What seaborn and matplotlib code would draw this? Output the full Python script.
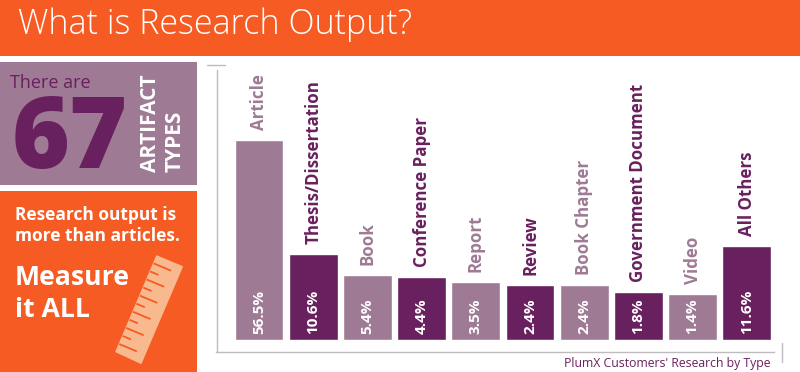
# -*- coding: utf-8 -*-
"""What is Research Output - PlumX artifact types"""
import pandas as pd
import matplotlib.pyplot as plt
import seaborn as sns
from matplotlib.patches import Polygon, Rectangle

ORANGE = '#F55B22'
LIGHT = '#9E7A95'
DARK = '#69205E'
GRAY = '#BFBBC0'
PEACH = '#F9B98F'

# data
types = ['Article', 'Thesis/Dissertation', 'Book', 'Conference Paper', 'Report',
         'Review', 'Book Chapter', 'Government Document', 'Video', 'All Others']
pct_labels = ['56.5%', '10.6%', '5.4%', '4.4%', '3.5%', '2.4%', '2.4%', '1.8%', '1.4%', '11.6%']
# the picture's bars are not to a linear scale, so heights are read off it
drawn_height = [200, 86, 65.5, 63, 58.4, 55, 55, 48.7, 46.4, 94]
bar_colors = [LIGHT, DARK, LIGHT, DARK, LIGHT, DARK, LIGHT, DARK, LIGHT, DARK]

sns.set_theme(style='white')
plt.rcParams['font.family'] = ['Open Sans', 'DejaVu Sans']

W, H = 800, 372
fig = plt.figure(figsize=(W / 100, H / 100), dpi=100, facecolor='white')

# chart
ax = fig.add_axes([216.5 / W, 1 - 352.3 / H, (774 - 216.5) / W, (352.3 - 70) / H])
df = pd.DataFrame({'type': types, 'height': drawn_height})
sns.barplot(data=df, x='type', y='height', hue='type', palette=bar_colors, legend=False,
            width=0.9, saturation=1, ax=ax)
ax.set_xlim(-0.785, 9.502)
ax.set_ylim(-12.1, 270.2)
ax.set_xlabel('')
ax.set_ylabel('')
ax.set_xticks([])
ax.set_yticks([])
sns.despine(ax=ax)
for side in ['left', 'bottom']:
    ax.spines[side].set_color(GRAY)
    ax.spines[side].set_linewidth(1)

for i, (name, pct, h, c) in enumerate(zip(types, pct_labels, drawn_height, bar_colors)):
    ax.annotate(name, (i, h), xytext=(0, 7), textcoords='offset points', rotation=90,
                ha='center', va='bottom', color=c, fontsize=12.2, fontweight='bold')
    ax.annotate(pct, (i, 0), xytext=(0, 4.5), textcoords='offset points', rotation=90,
                ha='center', va='bottom', color='white', fontsize=11, fontweight='bold')

# page furniture, in pixel coordinates
page = fig.add_axes([0, 0, 1, 1], facecolor='none')
page.set_xlim(0, W)
page.set_ylim(H, 0)
page.axis('off')

page.add_patch(Rectangle((0, 0), W, 56, color=ORANGE, lw=0))
page.add_patch(Rectangle((0, 62), 197, 123, color=LIGHT, lw=0))
page.add_patch(Rectangle((0, 191), 197, 181, color=ORANGE, lw=0))
page.plot([207, 225], [64.5, 64.5], color=GRAY, lw=1)
page.plot([781.5, 781.5], [343, 361.5], color=GRAY, lw=1)

page.text(18, 25, 'What is Research Output?', color='white', fontsize=24.5,
          fontweight='light', va='center', ha='left')
page.text(10, 83, 'There are', color=DARK, fontsize=13, va='center', ha='left')
page.text(12, 142, '67', color=DARK, fontsize=71.5, fontweight='extra bold', va='center', ha='left')
page.text(150, 172.5, 'ARTIFACT', color='white', fontsize=15, fontweight='bold',
          rotation=90, va='bottom', ha='center')
page.text(175, 172.5, 'TYPES', color='white', fontsize=15, fontweight='bold',
          rotation=90, va='bottom', ha='center')
page.text(15, 215, 'Research output is', color='white', fontsize=12.5, fontweight='bold',
          va='center', ha='left')
page.text(15, 236, 'more than articles.', color='white', fontsize=12.5, fontweight='bold',
          va='center', ha='left')
page.text(15, 278, 'Measure', color='white', fontsize=19.2, fontweight='bold',
          va='center', ha='left')
page.text(15, 310, 'it ALL', color='white', fontsize=19.2, fontweight='bold',
          va='center', ha='left')
page.text(770, 363, "PlumX Customers' Research by Type", color=DARK, fontsize=8.8,
          va='center', ha='right')

# ruler, with long and short ticks running in from its left edge
top_left, bottom_left = (156.7, 256), (116, 351.7)
page.add_patch(Polygon([top_left, (182.3, 266.7), (141, 363.3), bottom_left],
                       closed=True, facecolor=PEACH, edgecolor=PEACH, lw=1, joinstyle='round'))
for k in range(11):
    t = 0.077 + k * 0.0843
    x0 = top_left[0] + t * (bottom_left[0] - top_left[0])
    y0 = top_left[1] + t * (bottom_left[1] - top_left[1])
    length = 19 if k % 2 == 0 else 9
    page.plot([x0, x0 + 0.924 * length], [y0, y0 + 0.386 * length], color=ORANGE, lw=1.3,
              solid_capstyle='butt')

fig.savefig('out.png', dpi=100)
